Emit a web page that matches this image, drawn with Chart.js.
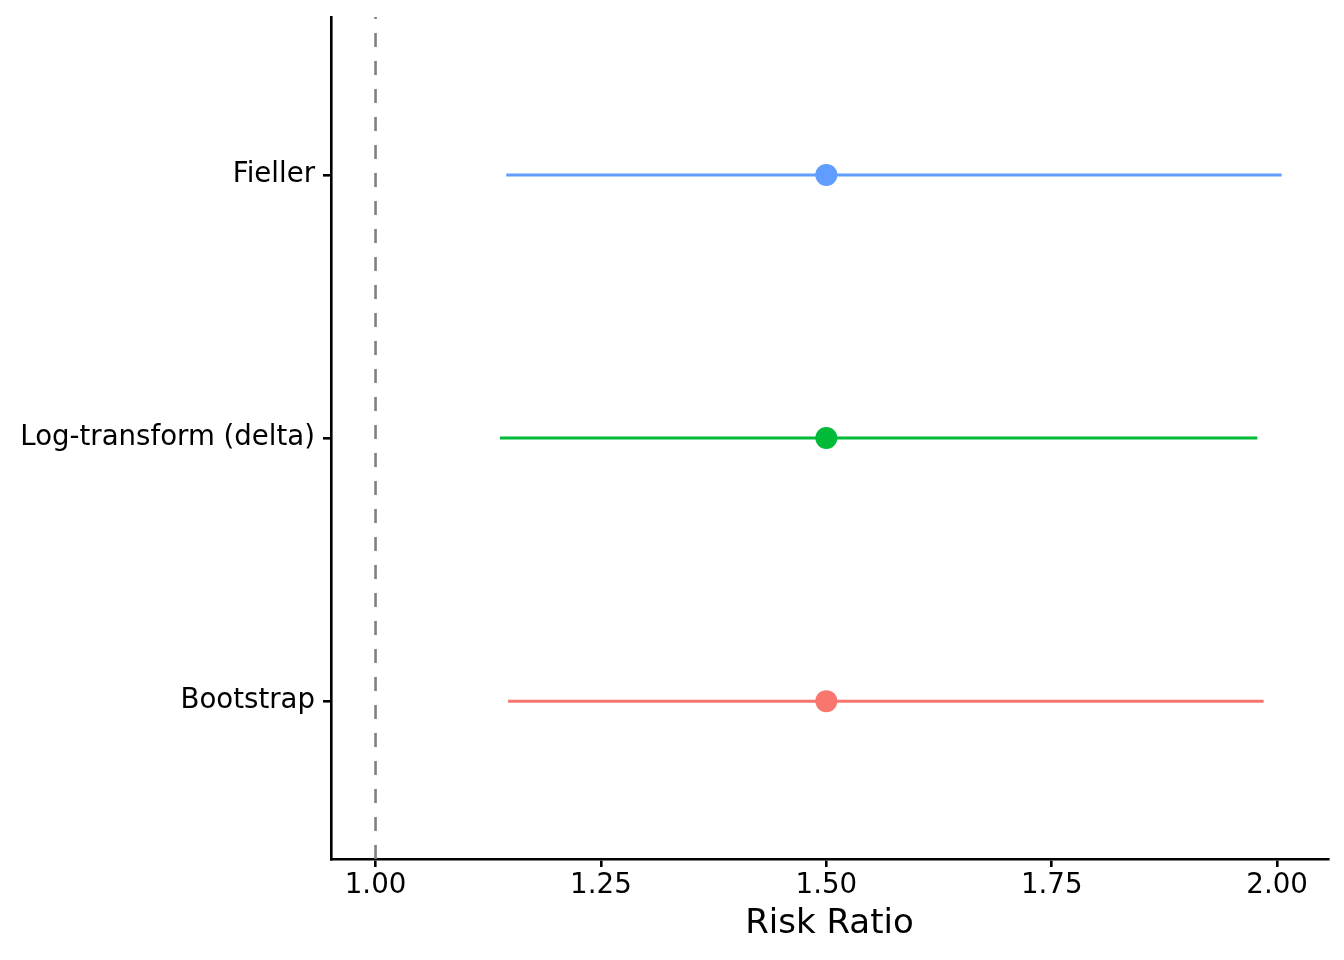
<!DOCTYPE html>
<html>
<head>
<meta charset="utf-8">
<script src="https://cdn.jsdelivr.net/npm/chart.js@4.4.0/dist/chart.umd.min.js"></script>
<style>
  html, body { margin: 0; padding: 0; background: #fff; }
  #wrap { width: 1344px; height: 960px; position: relative; }
</style>
</head>
<body>
<div id="wrap"><canvas id="forest"></canvas></div>
<script>
// methods from bottom (y = 1) to top (y = 3)
const methods = ['Bootstrap', 'Log-transform (delta)', 'Fieller'];
const estimates = [1.50, 1.50, 1.50];
const lowerCI = [1.147, 1.138, 1.145];
const upperCI = [1.985, 1.978, 2.005];
const colors = ['#F8766D', '#00BA38', '#619CFF'];
const xTicks = [1.00, 1.25, 1.50, 1.75, 2.00];
const refValue = 1;

const datasets = [];

// dashed reference line at RR = 1
datasets.push({
    data: [{ x: refValue, y: 0.4 }, { x: refValue, y: 3.6 }],
    showLine: true,
    borderColor: '#808080',
    borderWidth: 2.6,
    borderDash: [14, 14],
    pointRadius: 0
});

methods.forEach(function (m, i) {
    datasets.push({
        data: [{ x: lowerCI[i], y: i + 1 }, { x: upperCI[i], y: i + 1 }],
        showLine: true,
        borderColor: colors[i],
        borderWidth: 3,
        borderCapStyle: 'butt',
        pointRadius: 0
    });
    datasets.push({
        data: [{ x: estimates[i], y: i + 1 }],
        pointRadius: 11,
        pointBorderWidth: 0,
        backgroundColor: colors[i],
        borderColor: colors[i]
    });
});

const ctx = document.getElementById('forest').getContext('2d');
const forestChart = new Chart(ctx, {
    type: 'scatter',
    data: { datasets: datasets },
    options: {
        responsive: true,
        maintainAspectRatio: false,
        animation: false,
        layout: {
            padding: { top: 17, right: 16, bottom: 0, left: 0 }
        },
        plugins: {
            legend: { display: false },
            tooltip: { enabled: false }
        },
        scales: {
            x: {
                type: 'linear',
                min: 0.9506,
                max: 2.0564,
                afterBuildTicks: function (scale) {
                    scale.ticks = xTicks.map(function (v) { return { value: v }; });
                },
                afterFit: function (scale) {
                    scale.height = 101;
                },
                ticks: {
                    color: '#000',
                    padding: 2,
                    font: { family: 'DejaVu Sans', size: 27.7 },
                    callback: function (v) { return Number(v).toFixed(2); }
                },
                grid: {
                    display: true,
                    drawOnChartArea: false,
                    drawTicks: true,
                    tickLength: 8,
                    color: '#000',
                    lineWidth: 2.6
                },
                border: { display: true, color: '#000', width: 2.6 },
                title: {
                    display: true,
                    text: 'Risk Ratio',
                    color: '#000',
                    font: { family: 'DejaVu Sans', size: 34 },
                    padding: { top: 0, bottom: 15 }
                }
            },
            y: {
                type: 'linear',
                min: 0.4,
                max: 3.6,
                afterBuildTicks: function (scale) {
                    scale.ticks = methods.map(function (m, i) { return { value: i + 1 }; });
                },
                afterFit: function (scale) {
                    scale.width = 331;
                    scale.paddingTop = 0;
                    scale.paddingBottom = 0;
                },
                ticks: {
                    color: '#000',
                    padding: 8,
                    font: { family: 'DejaVu Sans', size: 27.6 },
                    callback: function (v) { return methods[Math.round(v) - 1]; }
                },
                grid: {
                    display: true,
                    drawOnChartArea: false,
                    drawTicks: true,
                    tickLength: 8,
                    color: '#000',
                    lineWidth: 2.6
                },
                border: { display: true, color: '#000', width: 2.6 }
            }
        }
    }
});
</script>
</body>
</html>
